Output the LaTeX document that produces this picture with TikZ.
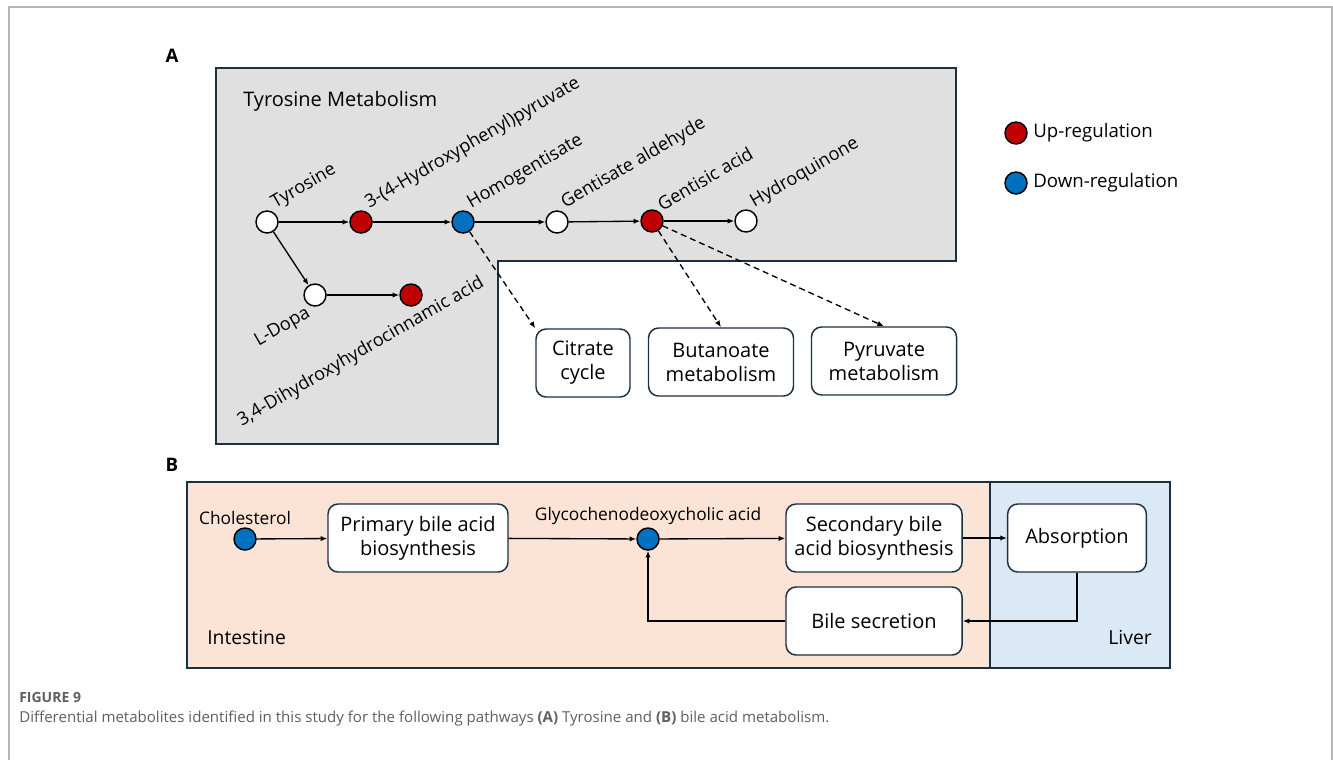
\documentclass[tikz,border=0pt]{standalone}
\usepackage{fontspec}
\setmainfont{Open Sans}
\usetikzlibrary{positioning,arrows.meta}
\definecolor{upred}{RGB}{192, 0, 0}
\definecolor{downblue}{RGB}{0, 112, 192}
\definecolor{panelgrey}{RGB}{224, 224, 224}
\definecolor{gutpeach}{RGB}{251, 227, 214}
\definecolor{liverblue}{RGB}{219, 232, 245}
\definecolor{edgenavy}{RGB}{28, 48, 66}
\definecolor{framegrey}{RGB}{182, 182, 182}
\definecolor{captiongrey}{RGB}{95, 95, 95}

\begin{document}
\begin{tikzpicture}[
    x=0.75pt, y=-0.75pt,
    font=\fontsize{13pt}{15pt}\selectfont,
    >={Latex[length=5pt,width=4pt]},
    metab/.style={
        circle,
        draw=black,
        line width=1.1pt,
        minimum size=16.5pt,
        inner sep=0pt
    },
    up/.style={metab, fill=upred},
    down/.style={metab, fill=downblue},
    plain/.style={metab, fill=white},
    tag/.style={
        rotate=30,
        inner sep=1.5pt,
        font=\fontsize{13.6pt}{15pt}\selectfont
    },
    pathbox/.style={
        draw=edgenavy,
        fill=white,
        line width=1.1pt,
        rounded corners=7.5pt,
        align=center,
        inner sep=0pt,
        minimum height=51pt,
        font=\fontsize{15pt}{18pt}\selectfont
    },
    arrow/.style={
        ->,
        line width=1pt
    },
    dasharrow/.style={
        ->,
        line width=1pt,
        dash pattern=on 4.5pt off 3pt
    }
]
    \useasboundingbox (0,0) rectangle (1333,760);

    % page frame
    \draw[framegrey, line width=1.5pt] (8.5,760) -- (8.5,6.5) -- (1331.5,6.5) -- (1331.5,760);

    % 1. Panel A: tyrosine metabolism
    \node[font=\fontsize{14pt}{16pt}\selectfont\bfseries] (lblA) at (172,56) {A};
    \draw[edgenavy, fill=panelgrey, line width=1.4pt]
        (216,68) -- (956,68) -- (956,261) -- (498,261) -- (498,444) -- (216,444) -- cycle;
    \node[anchor=west, inner sep=0pt, font=\fontsize{15pt}{18pt}\selectfont] (tyrmet) at (243,101) {Tyrosine Metabolism};

    \node[plain, label={[tag, anchor=south west]35:Tyrosine}] (tyr) at (267,222) {};
    \node[up, label={[tag, anchor=south west]35:3-(4-Hydroxyphenyl)pyruvate}] (hpp) at (361,222) {};
    \node[down, label={[tag, anchor=south west]35:Homogentisate}] (homog) at (463,222) {};
    \node[plain, label={[tag, anchor=south west]35:Gentisate aldehyde}] (gald) at (557,222) {};
    \node[up, label={[tag, anchor=south west]35:Gentisic acid}] (gacid) at (652,221) {};
    \node[plain, label={[tag, anchor=south west]35:Hydroquinone}] (hq) at (746,221) {};

    \node[plain, label={[tag, anchor=north east]215:L-Dopa}] (ldopa) at (315,295) {};
    \node[up] (dhca) at (411,295) {};
    \node[tag] (dhcalab) at (361,352) {3,4-Dihydroxyhydrocinnamic acid};

    % Linked pathways
    \node[pathbox, minimum width=70.5pt] (citrate) at (583,363) {Citrate\\cycle};
    \node[pathbox, minimum width=108.75pt] (butan) at (721,362) {Butanoate\\metabolism};
    \node[pathbox, minimum width=108.75pt] (pyruv) at (884,361) {Pyruvate\\metabolism};

    % Legend
    \node[up] (legup) at (1016,133) {};
    \node[right=3pt of legup, inner sep=1pt, font=\fontsize{14pt}{16pt}\selectfont] (leguptxt) {Up-regulation};
    \node[down] (legdown) at (1016,183) {};
    \node[right=3pt of legdown, inner sep=1pt, font=\fontsize{14pt}{16pt}\selectfont] (legdowntxt) {Down-regulation};

    % Connections A
    \draw[arrow] (tyr) -- (hpp);
    \draw[arrow] (hpp) -- (homog);
    \draw[arrow] (homog) -- (gald);
    \draw[arrow] (gald) -- (gacid);
    \draw[arrow] (gacid) -- (hq);
    \draw[arrow] (tyr) -- (ldopa);
    \draw[arrow] (ldopa) -- (dhca);
    \draw[dasharrow] (homog) -- (citrate.north west);
    \draw[dasharrow] (gacid) -- (butan.north);
    \draw[dasharrow] (gacid) -- (pyruv.north);

    % 2. Panel B: bile acid metabolism
    \node[font=\fontsize{14pt}{16pt}\selectfont\bfseries] (lblB) at (172,465) {B};
    \draw[edgenavy, fill=gutpeach, line width=1.4pt] (187,482) rectangle (990,668);
    \draw[edgenavy, fill=liverblue, line width=1.4pt] (990,482) rectangle (1170,668);
    \node[anchor=west, inner sep=0pt, font=\fontsize{14.5pt}{17pt}\selectfont] (gut) at (207,637) {Intestine};
    \node[anchor=east, inner sep=0pt, font=\fontsize{14.5pt}{17pt}\selectfont] (liver) at (1152,637) {Liver};

    \node[down, label={[inner sep=2pt]above:Cholesterol}] (chol) at (245,539) {};
    \node[pathbox, minimum width=135pt] (primary) at (418,538) {Primary bile acid\\biosynthesis};
    \node[down, label={[inner sep=2pt]above:Glycochenodeoxycholic acid}] (gcdca) at (648,539) {};
    \node[pathbox, minimum width=132pt] (secondary) at (874,538) {Secondary bile\\acid biosynthesis};
    \node[pathbox, minimum width=104pt] (absorb) at (1077,538) {Absorption};
    \node[pathbox, minimum width=132pt] (bilesec) at (874,621) {Bile secretion};

    % Connections B
    \draw[arrow] (chol) -- (primary);
    \draw[arrow] (primary) -- (gcdca);
    \draw[arrow] (gcdca) -- (secondary);
    \draw[arrow] (secondary) -- (absorb);
    \draw[arrow] (absorb.south) |- (bilesec.east);
    \draw[arrow] (bilesec.west) -| (gcdca.south);

    % 3. Caption
    \node[anchor=west, inner sep=0pt, text=captiongrey, font=\fontsize{10.5pt}{12pt}\selectfont\bfseries] (fig) at (19,697) {FIGURE 9};
    \node[anchor=west, inner sep=0pt, text=captiongrey, font=\fontsize{11.3pt}{13pt}\selectfont] (caption) at (19,719)
        {Differential metabolites identified in this study for the following pathways \textbf{(A)} Tyrosine and \textbf{(B)} bile acid metabolism.};

\end{tikzpicture}
\end{document}
